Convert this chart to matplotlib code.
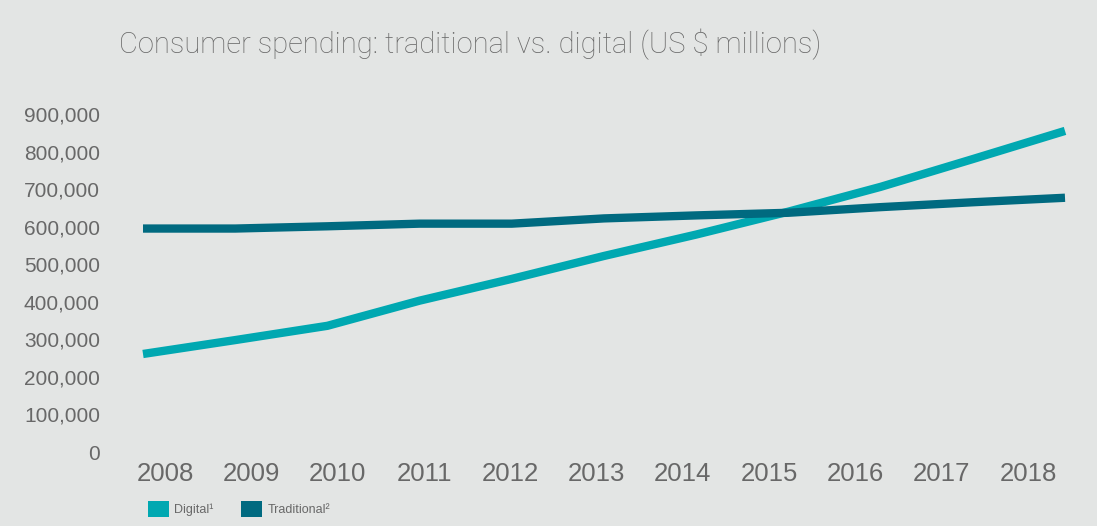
import matplotlib.pyplot as plt
import numpy as np
from matplotlib.patches import Patch
from matplotlib.ticker import FuncFormatter

years = [2008, 2009, 2010, 2011, 2012, 2013, 2014, 2015, 2016, 2017, 2018]
digital = [261000, 298000, 336000, 403000, 461000, 522000, 579000, 640000, 706000, 780000, 855000]
traditional = [595000, 595000, 601000, 608000, 608000, 622000, 630000, 637000, 652000, 665000, 677000]
series_labels = ["Digital\u00b9", "Traditional\u00b2"]

BG = "#e3e5e4"
C_DIGITAL = "#00a8b1"
C_TRAD = "#006a80"
TXT = "#686868"

plt.rcParams["font.family"] = ["Liberation Sans", "DejaVu Sans"]

fig = plt.figure(figsize=(10.97, 5.26), dpi=100, facecolor=BG)
ax = fig.add_axes([143 / 1097, 1 - 452 / 526, (1065 - 143) / 1097, (452 - 114) / 526])
ax.set_facecolor(BG)

ax.plot(years, digital, color=C_DIGITAL, lw=6, solid_capstyle="butt", clip_on=False)
ax.plot(years, traditional, color=C_TRAD, lw=6, solid_capstyle="butt", clip_on=False)

ax.set_xlim(2008, 2018)
ax.set_ylim(0, 900000)
ax.set_yticks(np.arange(0, 900001, 100000))
ax.yaxis.set_major_formatter(FuncFormatter(lambda v, _: f"{int(v):,}"))

# year labels sit a little inside the line ends in the original
ax.set_xticks(np.linspace(2008.24, 2017.6, len(years)))
ax.set_xticklabels([str(y) for y in years])

for s in ax.spines.values():
    s.set_visible(False)
ax.tick_params(axis="y", length=0, pad=31, labelsize=15, labelcolor=TXT)
ax.tick_params(axis="x", length=0, pad=7, labelsize=18.5, labelcolor=TXT)

fig.text(119 / 1097, 1 - 44 / 526, "Consumer spending: traditional vs. digital (US $ millions)",
         fontsize=21, color=TXT, va="center", ha="left",
         family=["Roboto", "DejaVu Sans"], fontweight="light")

handles = [Patch(facecolor=C_DIGITAL), Patch(facecolor=C_TRAD)]
fig.legend(handles, series_labels, loc="center left", bbox_to_anchor=(148 / 1097, 1 - 509 / 526),
           ncol=2, frameon=False, fontsize=9, labelcolor=TXT, handlelength=1.7, handleheight=1.7,
           handletextpad=0.4, columnspacing=2.2, borderaxespad=0, borderpad=0)

fig.savefig("out.png", dpi=100, facecolor=BG)
